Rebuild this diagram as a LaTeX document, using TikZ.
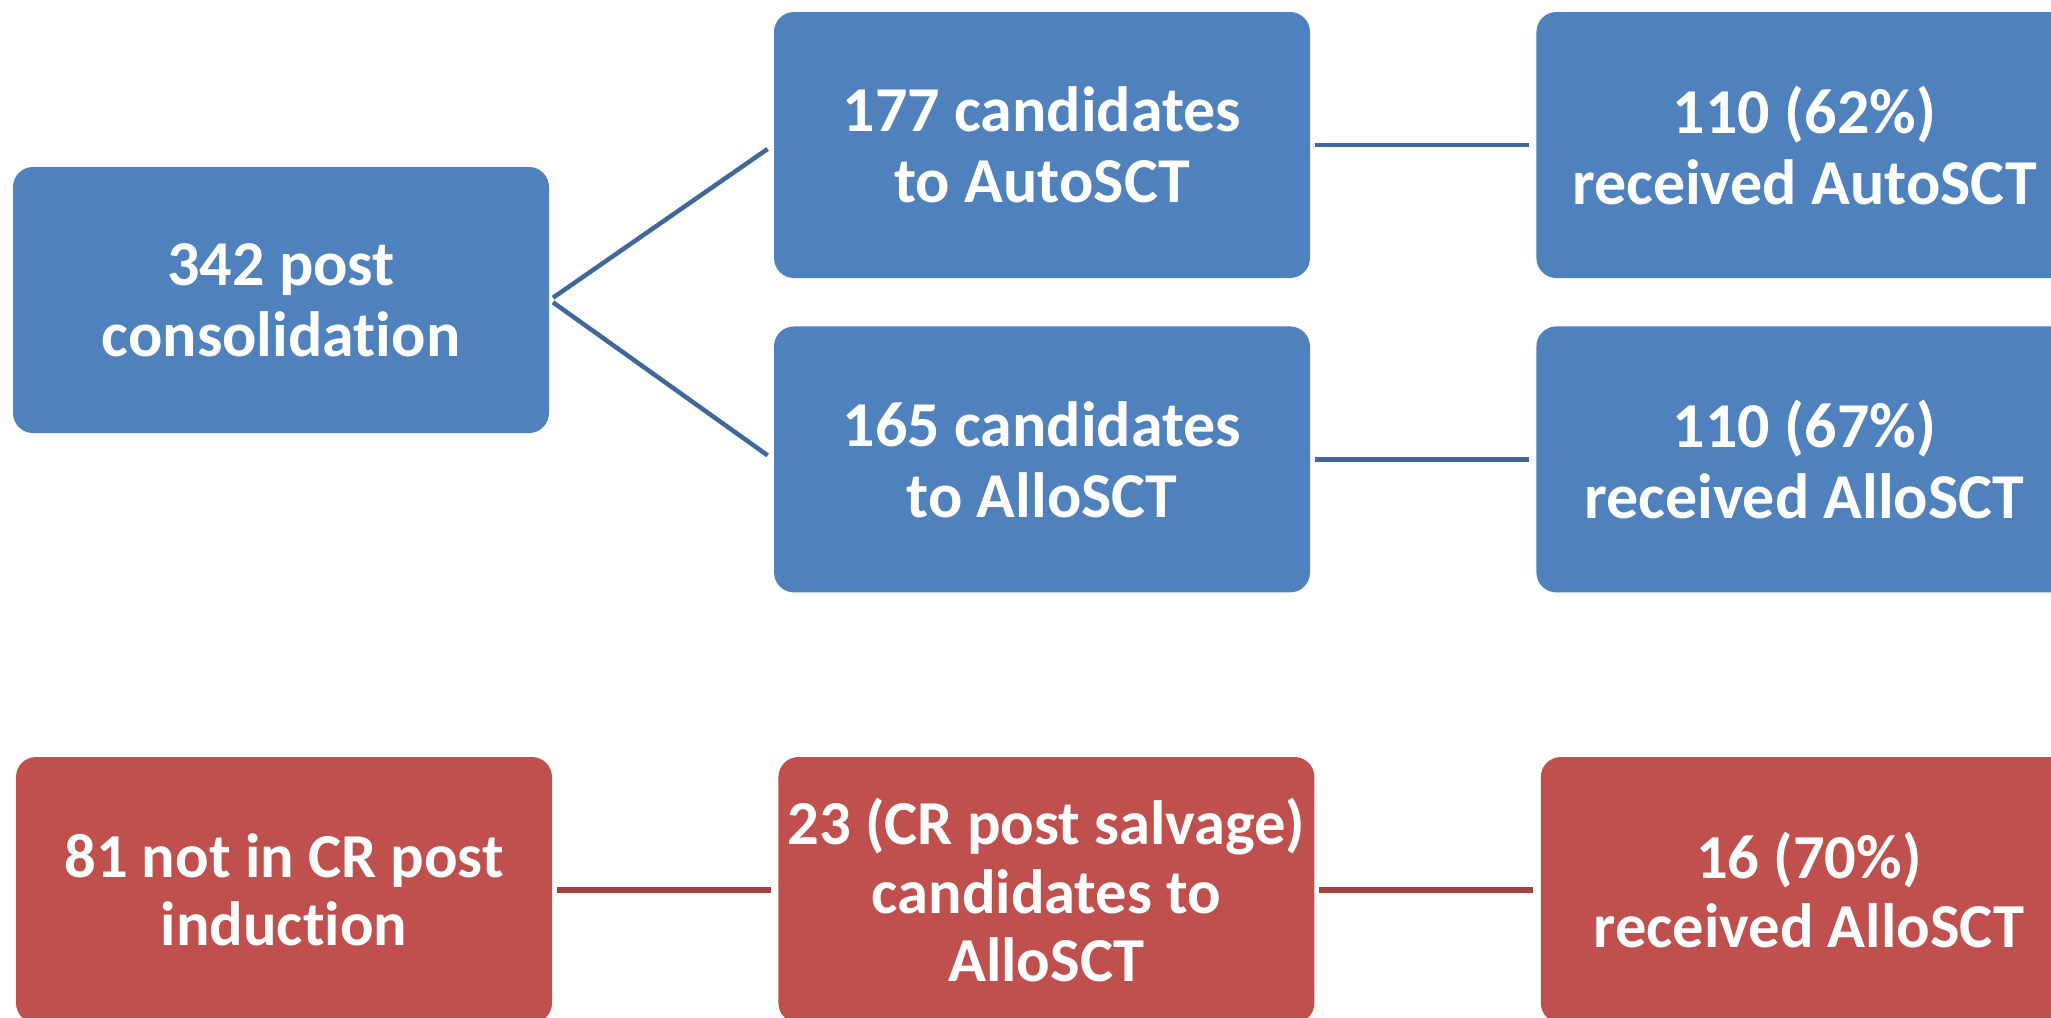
\documentclass[tikz,border=0pt]{standalone}
\usepackage{fontspec}
\setmainfont{Carlito}[Ligatures=NoCommon]
\usepackage{tikz}
\usetikzlibrary{positioning}
\usepackage{xcolor}
\definecolor{bluefill}{HTML}{4F81BD}
\definecolor{blueline}{HTML}{41689B}
\definecolor{redfill}{HTML}{C0504D}
\definecolor{redline}{HTML}{A0413F}

\begin{document}
\begin{tikzpicture}[
    x=0.1mm, y=-0.1mm,
    node distance=4.7mm and 22.5mm,
    box/.style={
        rectangle, rounded corners=2mm, minimum height=26.6mm,
        minimum width=53.6mm, align=center, inner sep=0pt,
        text=white, fill=bluefill,
        font=\bfseries\fontsize{18.2}{20.2}\selectfont
    },
    redbox/.style={box, fill=redfill,
        font=\bfseries\fontsize{17.8}{19.4}\selectfont},
    link/.style={line width=0.45mm, draw=blueline,
        shorten <=0.4mm, shorten >=0.7mm},
    redlink/.style={link, draw=redline, line width=0.55mm}
]
\clip (0,0) rectangle (2051,1017);
\node[box] (cons) at (281,300) {342 post\\consolidation};
\node[box] (autocand) at (1042,145) {177 candidates\\to AutoSCT};
\node[box, below=of autocand] (allocand) {165 candidates\\to AlloSCT};
\node[box, right=of autocand] (autorec) {110 (62\%)\\received AutoSCT};
\node[box, right=of allocand] (allorec) {110 (67\%)\\received AlloSCT};
\node[redbox] (notcr) at (284,890) {81 not in CR post\\induction};
\node[redbox, right=of notcr] (salvage) {23 (CR post salvage)\\candidates to\\AlloSCT};
\node[redbox, right=of salvage] (salvrec) {16 (70\%)\\received AlloSCT};
\draw[link] (cons.east) -- (autocand.west);
\draw[link] (cons.east) -- (allocand.west);
\draw[link] (autocand) -- (autorec);
\draw[link] (allocand) -- (allorec);
\draw[redlink] (notcr) -- (salvage);
\draw[redlink] (salvage) -- (salvrec);
\end{tikzpicture}
\end{document}
